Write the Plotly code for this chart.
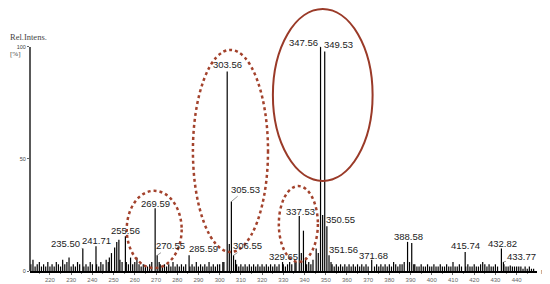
"""
ESI 质谱图复刻（相对强度 vs m/z）
"""
import plotly.graph_objects as go

# 主要峰（m/z, 相对强度 %）
peak_mz = [235.50, 241.71, 246.5, 247.5, 250.5, 251.5, 252.5, 255.56, 258.0,
           261.0, 269.59, 270.55, 271.5, 285.59, 301.5, 303.56, 304.55,
           305.53, 306.55, 307.5, 329.65, 335.5, 337.53, 338.5, 339.5, 340.5,
           345.5, 346.5, 347.56, 348.55, 349.53, 350.55, 351.56, 352.5,
           371.68, 385.0, 388.58, 389.5, 390.55, 391.5, 415.74, 425.0,
           432.82, 433.77, 437.0]
peak_int = [10, 11, 5, 4, 10.5, 13, 14, 15.5, 6,
            6, 28, 7, 4, 7, 4, 89, 12,
            31, 7, 5, 4, 4, 24.5, 8, 18, 6,
            10, 8, 100, 25, 98, 20, 7, 4,
            5, 3, 13, 4, 12.5, 3, 8.5, 3,
            10, 4, 2.5]

# 基线噪声峰
noise_mz = [211, 212, 213, 214, 215, 216, 217, 218, 219, 220,
            221, 222, 223, 224, 225, 226, 227, 228, 229, 230,
            231, 232, 233, 234, 236, 237, 238, 239, 240, 242,
            243, 244, 245, 248, 249, 253, 254, 256, 257, 259,
            260, 262, 263, 264, 265, 266, 267, 268, 272, 273,
            274, 275, 276, 277, 278, 279, 280, 281, 282, 283,
            284, 286, 287, 288, 289, 290, 291, 292, 293, 294,
            295, 296, 297, 298, 299, 300, 302, 308, 309, 310,
            311, 312, 313, 314, 315, 316, 317, 318, 319, 320,
            321, 322, 323, 324, 325, 326, 327, 328, 330, 331,
            332, 333, 334, 336, 341, 342, 343, 344, 353, 354,
            355, 356, 357, 358, 359, 360, 361, 362, 363, 364,
            365, 366, 367, 368, 369, 370, 373, 374, 375, 376,
            377, 378, 379, 380, 381, 382, 383, 384, 386, 387,
            392, 393, 394, 395, 396, 397, 398, 399, 400, 401,
            402, 403, 404, 405, 406, 407, 408, 409, 410, 411,
            412, 413, 414, 416, 417, 418, 419, 420, 421, 422,
            423, 424, 426, 427, 428, 429, 430, 431, 434, 435,
            436, 438, 439, 440, 441, 442, 443, 444, 445, 446,
            447, 448]
noise_int = [3, 5, 2, 3, 4, 2, 3, 2, 4, 2,
             3, 2, 4, 3, 2, 5, 3, 4, 6, 2,
             3, 2, 4, 3, 2, 3, 2, 4, 3, 3,
             2, 4, 3, 6, 8, 5, 4, 4, 3, 3,
             4, 3, 2, 3, 2, 2, 3, 4, 3, 2,
             3, 2, 3, 2, 4, 2, 3, 2, 3, 2,
             3, 2, 3, 2, 4, 2, 3, 2, 3, 2,
             4, 2, 3, 2, 3, 3, 4, 3, 2, 3,
             2, 3, 2, 3, 2, 3, 2, 3, 2, 3,
             2, 3, 2, 3, 2, 3, 2, 3, 3, 2,
             3, 4, 3, 4, 3, 4, 3, 5, 3, 2,
             3, 2, 3, 2, 3, 2, 3, 2, 3, 2,
             3, 2, 3, 2, 3, 2, 2, 3, 2, 3,
             2, 3, 2, 3, 2, 4, 3, 2, 3, 4,
             3, 2, 2, 3, 2, 2, 3, 2, 2, 3,
             2, 2, 3, 2, 2, 3, 2, 2, 4, 2,
             2, 3, 2, 2, 3, 2, 2, 3, 2, 2,
             3, 4, 2, 3, 2, 2, 3, 2, 3, 2,
             2, 2, 2, 2, 2, 2, 1, 2, 1, 2,
             1, 1]

# 标注的峰值
label_mz = ["235.50", "241.71", "255.56", "269.59", "270.55", "285.59",
            "303.56", "305.53", "306.55", "329.65", "337.53", "347.56",
            "349.53", "350.55", "351.56", "371.68", "388.58", "415.74",
            "432.82", "433.77"]

# 标签文字位置（数据坐标）
label_pos = {
    "235.50": (227.4, 12.1), "241.71": (241.8, 13.4), "255.56": (255.7, 18.0),
    "269.59": (269.7, 30.2), "270.55": (277.0, 11.3), "285.59": (292.4, 10.1),
    "303.56": (303.7, 92.0), "305.53": (312.4, 36.5), "306.55": (313.3, 11.3),
    "329.65": (330.2, 6.4), "337.53": (338.0, 26.5), "347.56": (339.7, 102.1),
    "349.53": (356.2, 100.9), "350.55": (357.2, 23.1), "351.56": (358.4, 9.7),
    "371.68": (372.4, 7.1), "388.58": (388.9, 15.6), "415.74": (415.9, 11.2),
    "432.82": (433.4, 12.4), "433.77": (442.5, 6.4),
}

# 圈注（x0, x1, y0, y1, 是否虚线）
ellipses = [
    (256.2, 282.1, 1.3, 35.8, True),
    (287.4, 322.8, 8.5, 98.7, True),
    (327.9, 346.3, 4.0, 37.9, True),
    (325.1, 372.1, 40.2, 116.9, False),
]

Y_MAX = 117.4

xs, ys = [], []
for mz, h in list(zip(noise_mz, noise_int)) + list(zip(peak_mz, peak_int)):
    xs += [mz, mz, None]
    ys += [0, h, None]

fig = go.Figure()
fig.add_trace(go.Scatter(
    x=xs, y=ys, mode='lines',
    line=dict(color='black', width=1.2),
    hoverinfo='skip', showlegend=False
))

peak_lookup = dict(zip([f"{m:.2f}" for m in peak_mz], peak_int))
for lab in label_mz:
    lx, ly = label_pos[lab]
    fig.add_annotation(
        x=float(lab), y=peak_lookup[lab], xref='x', yref='y',
        ax=lx, ay=ly, axref='x', ayref='y',
        text=lab, showarrow=True, arrowhead=0, arrowwidth=0.7,
        arrowcolor='#666', standoff=0,
        font=dict(family='Liberation Sans, Arial', size=9.5, color='#222')
    )

for x0, x1, y0, y1, dotted in ellipses:
    fig.add_shape(
        type='circle', xref='x', yref='y domain',
        x0=x0, x1=x1, y0=y0 / Y_MAX, y1=y1 / Y_MAX,
        line=dict(color='#a3422c' if dotted else '#9a3a28',
                  width=2.5 if dotted else 2,
                  dash='dot' if dotted else 'solid'),
        layer='above'
    )

# y 轴线只画到 100
fig.add_shape(type='line', xref='paper', yref='y', x0=0, x1=0, y0=0, y1=100,
              line=dict(color='#222', width=1.5))

fig.add_annotation(x=-0.043, y=0.89, xref='paper', yref='paper', xanchor='left',
                   yanchor='middle', text='Rel.Intens.', showarrow=False,
                   font=dict(family='Liberation Serif', size=8.5, color='#444'))
fig.add_annotation(x=-0.043, y=0.825, xref='paper', yref='paper', xanchor='left',
                   yanchor='middle', text='[%]', showarrow=False,
                   font=dict(family='Liberation Serif', size=7, color='#444'))
fig.add_annotation(x=1.0, y=0, xref='paper', yref='y', xanchor='left',
                   yanchor='middle', xshift=2, text='m/z', showarrow=False,
                   font=dict(family='Liberation Sans', size=6.5, color='#444'))

# 页面 body 自带 8px 边距，图尺寸相应缩小
fig.update_layout(
    width=542, height=276,
    margin=dict(l=22, r=13, t=0, b=13),
    template='plotly_white',
    plot_bgcolor='white', paper_bgcolor='white',
    showlegend=False,
    xaxis=dict(
        range=[210.6, 449.6], showgrid=False, zeroline=False,
        showline=True, linecolor='black', linewidth=1.8,
        tickmode='array', tickvals=list(range(220, 441, 10)),
        ticks='outside', ticklen=2, tickcolor='#666',
        tickfont=dict(family='Liberation Sans', size=6, color='#666'),
        minor=dict(ticks='outside', ticklen=1.5, dtick=5, tickcolor='#888'),
    ),
    yaxis=dict(
        range=[0, Y_MAX], showgrid=False, zeroline=False, showline=False,
        tickmode='array', tickvals=[0, 50, 100],
        ticks='outside', ticklen=2, tickcolor='#666',
        tickfont=dict(family='Liberation Sans', size=5.5, color='#444'),
    ),
)

fig.write_html("out.html")
